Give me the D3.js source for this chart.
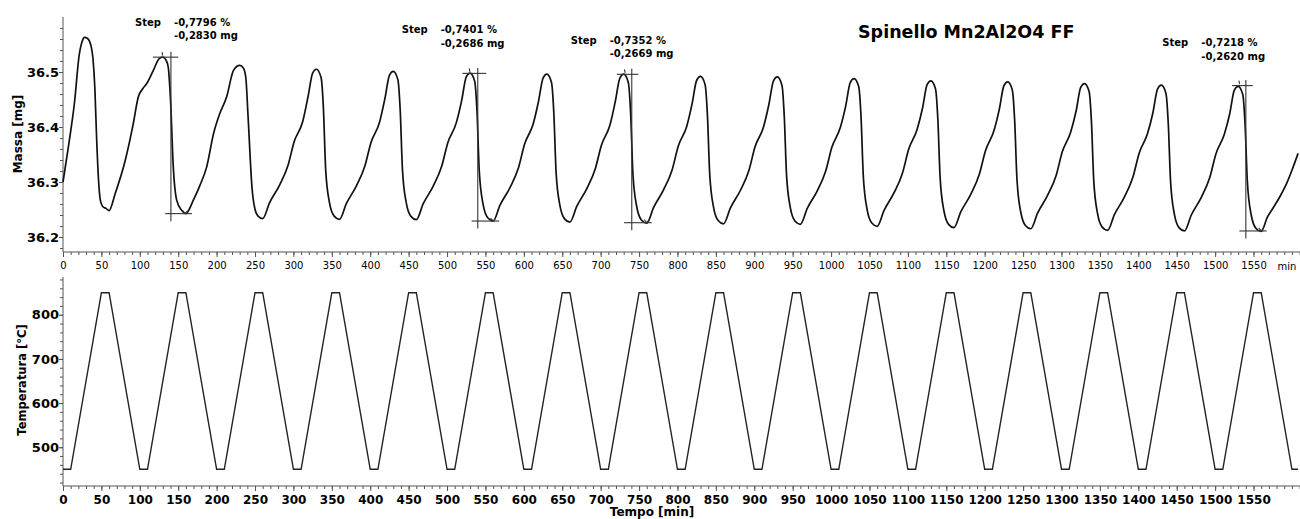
<!DOCTYPE html>
<html><head><meta charset="utf-8">
<script src="https://cdn.jsdelivr.net/npm/d3@7"></script>
<style>
body{margin:0;background:#fff}
svg{display:block;font-family:"DejaVu Sans",Verdana,sans-serif}
</style>
</head><body>
<svg id="c" width="1300" height="519"></svg>
<script>
// ---------------- DATA ----------------
const chartTitle = "Spinello Mn2Al2O4 FF";
const xTickLabels = [0,50,100,150,200,250,300,350,400,450,500,550,600,650,700,750,800,850,900,950,1000,1050,1100,1150,1200,1250,1300,1350,1400,1450,1500,1550];
const massTickLabels = [36.2,36.3,36.4,36.5];
const tempTickLabels = [500,600,700,800];

// Mass [mg] vs time [min]
const massTime = [
  0,7,15,21,25,28,32,36,39,41.5,43.5,46,48.5,52,56,60,
  68,81,91.5,98,104,109,117.6,125,130,134,137,140,143.6,148,154.5,160,
  170,178,187,196,204,213,222,230,235,238,241,246,250,254,260,
  269,282,293,301,312,319,325,330,336,339,342,347,353,360,
  369,382,393,401,412,419,425,430,436,439,442,447,453,460,
  469,482,493,501,512,519,525,530,536,539,542,547,553,560,
  569,582,593,601,612,619,625,630,636,639,642,647,653,660,
  669,682,693,701,712,719,725,730,736,739,742,747,753,760,
  769,782,793,801,812,819,825,830,836,839,842,847,853,860,
  869,882,893,901,912,919,925,930,936,939,942,947,953,960,
  969,982,993,1001,1012,1019,1025,1030,1036,1039,1042,1047,1053,1060,
  1069,1082,1093,1101,1112,1119,1125,1130,1136,1139,1142,1147,1153,1160,
  1169,1182,1193,1201,1212,1219,1225,1230,1236,1239,1242,1247,1253,1260,
  1269,1282,1293,1301,1312,1319,1325,1330,1336,1339,1342,1347,1353,1360,
  1369,1382,1393,1401,1412,1419,1425,1430,1436,1439,1442,1447,1453,1460,
  1469,1482,1493,1501,1512,1519,1525,1530,1536,1539,1542,1547,1553,1560,
  1568,1576,1585,1593,1601,1608
];
const massValue = [
  36.300,36.364,36.445,36.530,36.556,36.563,36.561,36.550,36.525,36.470,36.390,36.310,36.268,36.255,36.252,36.248,
  36.279,36.339,36.406,36.4545,36.470,36.479,36.503,36.524,36.527,36.522,36.509,36.4485,36.327,36.267,36.2485,36.2425,
  36.268,36.293,36.327,36.388,36.424,36.4545,36.503,36.512,36.507,36.490,36.418,36.291,36.250,36.238,36.2335,
  36.2625,36.2945,36.3305,36.3735,36.4095,36.455,36.498,36.505,36.490,36.435,36.322,36.262,36.238,36.232,
  36.261,36.293,36.329,36.372,36.408,36.451,36.494,36.501,36.486,36.431,36.3215,36.2615,36.2375,36.2315,
  36.2605,36.2925,36.3285,36.3715,36.4075,36.448,36.491,36.498,36.483,36.428,36.319,36.259,36.235,36.229,
  36.258,36.290,36.326,36.369,36.405,36.446,36.489,36.496,36.481,36.426,36.317,36.257,36.233,36.227,
  36.256,36.288,36.324,36.367,36.403,36.446,36.489,36.496,36.481,36.426,36.315,36.255,36.231,36.225,
  36.254,36.286,36.322,36.365,36.401,36.442,36.485,36.492,36.477,36.422,36.314,36.254,36.230,36.224,
  36.253,36.285,36.321,36.364,36.400,36.441,36.484,36.491,36.476,36.421,36.313,36.253,36.229,36.223,
  36.252,36.284,36.320,36.363,36.399,36.438,36.481,36.488,36.473,36.418,36.3095,36.2495,36.2255,36.2195,
  36.2485,36.2805,36.3165,36.3595,36.3955,36.434,36.477,36.484,36.469,36.414,36.307,36.247,36.223,36.217,
  36.246,36.278,36.314,36.357,36.393,36.432,36.475,36.482,36.467,36.412,36.305,36.245,36.221,36.215,
  36.244,36.276,36.312,36.355,36.391,36.429,36.472,36.479,36.464,36.409,36.302,36.242,36.218,36.212,
  36.241,36.273,36.309,36.352,36.388,36.426,36.469,36.476,36.461,36.406,36.301,36.241,36.217,36.211,
  36.240,36.272,36.308,36.351,36.387,36.424,36.467,36.474,36.459,36.404,36.300,36.240,36.216,36.210,
  36.236,36.254,36.275,36.297,36.325,36.352
];

// Temperature [°C] vs time [min]
const tempTime = [
  0,10,50,60, 100,110,150,160, 200,210,250,260, 300,310,350,360,
  400,410,450,460, 500,510,550,560, 600,610,650,660, 700,710,750,760,
  800,810,850,860, 900,910,950,960, 1000,1010,1050,1060, 1100,1110,1150,1160,
  1200,1210,1250,1260, 1300,1310,1350,1360, 1400,1410,1450,1460, 1500,1510,1550,1560,
  1600,1608
];
const tempValue = [
  450,450,850,850, 450,450,850,850, 450,450,850,850, 450,450,850,850,
  450,450,850,850, 450,450,850,850, 450,450,850,850, 450,450,850,850,
  450,450,850,850, 450,450,850,850, 450,450,850,850, 450,450,850,850,
  450,450,850,850, 450,450,850,850, 450,450,850,850, 450,450,850,850,
  450,450
];

// Step evaluations
const stepTime = [140.5, 540, 740.5, 1540];
const stepTop = [36.527, 36.4975, 36.4958, 36.4753];
const stepBottom = [36.2425, 36.229, 36.226, 36.211];
const stepTopFrom = [117, 520, 721, 1522];
const stepTopTo = [150, 551, 749, 1549];
const stepBottomFrom = [133, 532, 730.5, 1531.6];
const stepBottomTo = [168, 568, 766.5, 1567];
const stepPeakTime = [129, 529, 731, 1531];
const stepMinTime = [159, 560, 760, 1560];
const stepPercent = ["-0,7796 %","-0,7401 %","-0,7352 %","-0,7218 %"];
const stepMass = ["-0,2830 mg","-0,2686 mg","-0,2669 mg","-0,2620 mg"];

// ---------------- LAYOUT ----------------
const stepLabelAt = [[135,25.5],[401.7,33],[570.7,43.5],[1162.3,46]];
const svg = d3.select("#c");
const axisColor = "#555";
const x = d3.scaleLinear().domain([0,1610.5]).range([63,1300]);
const yM = d3.scaleLinear().domain([36.2,36.5]).range([237,72]);
const yT = d3.scaleLinear().domain([450,850]).range([469.3,292.7]);
const xMinor = d3.range(0,1611,10);
const mMinor = d3.range(36.18,36.59,0.02);
const tMinor = d3.range(420,881,20);
const topAxisY = 252, botAxisY = 486;

function styleAxis(g){
  g.select(".domain").remove();
  g.selectAll(".tick line").attr("stroke",axisColor);
  g.selectAll("text").attr("fill","#000");
}
function xAxis(yPos, size, weight, pad){
  svg.append("g").attr("transform",`translate(0,${yPos})`)
    .call(d3.axisBottom(x).tickValues(xMinor).tickSize(3).tickSizeOuter(0).tickFormat(""))
    .call(styleAxis);
  svg.append("g").attr("transform",`translate(0,${yPos})`)
    .call(d3.axisBottom(x).tickValues(xTickLabels).tickSize(5).tickPadding(pad).tickSizeOuter(0).tickFormat(d3.format("d")))
    .call(styleAxis)
    .selectAll("text").attr("font-size",size).attr("font-weight",weight).attr("font-family",'"DejaVu Sans",Verdana,sans-serif');
  svg.append("line").attr("x1",63).attr("x2",1300).attr("y1",yPos).attr("y2",yPos)
    .attr("stroke",axisColor).attr("stroke-width",1);
}
function yAxis(scale, minor, major, fmt, y1, y2){
  svg.append("g").attr("transform","translate(63,0)")
    .call(d3.axisLeft(scale).tickValues(minor).tickSize(3).tickSizeOuter(0).tickFormat(""))
    .call(styleAxis);
  svg.append("g").attr("transform","translate(63,0)")
    .call(d3.axisLeft(scale).tickValues(major).tickSize(4).tickPadding(0).tickSizeOuter(0).tickFormat(fmt))
    .call(styleAxis)
    .selectAll("text").attr("font-size",13).attr("font-weight","bold").attr("font-family",'"DejaVu Sans",Verdana,sans-serif');
  svg.append("line").attr("x1",63).attr("x2",63).attr("y1",y1).attr("y2",y2)
    .attr("stroke",axisColor).attr("stroke-width",1);
}

// axes
xAxis(topAxisY, 10, "normal", 5);
xAxis(botAxisY, 12, "bold", 4.5);
yAxis(yM, mMinor, massTickLabels, d3.format(".1f"), 17, topAxisY);
yAxis(yT, tMinor, tempTickLabels, d3.format("d"), 277, botAxisY);

svg.append("text").attr("x",1287).attr("y",269.5).attr("text-anchor","middle")
  .attr("font-size",10).text("min");
svg.append("text").attr("x",652).attr("y",516).attr("text-anchor","middle")
  .attr("font-size",12).attr("font-weight","bold").text("Tempo [min]");
svg.append("text").attr("transform","translate(22,134) rotate(-90)").attr("text-anchor","middle")
  .attr("font-size",12).attr("font-weight","bold").text("Massa [mg]");
svg.append("text").attr("transform","translate(26,380) rotate(-90)").attr("text-anchor","middle")
  .attr("font-size",11.5).attr("font-weight","bold").text("Temperatura [°C]");
svg.append("text").attr("x",858).attr("y",38).attr("font-size",17.5).attr("font-weight","bold").text(chartTitle);

// lines
const massData = massTime.map((t,i)=>[t,massValue[i]]);
const tempData = tempTime.map((t,i)=>[t,tempValue[i]]);
svg.append("path").datum(tempData)
  .attr("d",d3.line().x(d=>x(d[0])).y(d=>yT(d[1])))
  .attr("fill","none").attr("stroke","#222").attr("stroke-width",1.4);
svg.append("path").datum(massData)
  .attr("d",d3.line().x(d=>x(d[0])).y(d=>yM(d[1])).curve(d3.curveMonotoneX))
  .attr("fill","none").attr("stroke","#111").attr("stroke-width",1.7).attr("stroke-linejoin","round");

// step markers
const mk = svg.append("g").attr("stroke","#333").attr("stroke-width",1.1).attr("fill","none");
stepTime.forEach((t,i)=>{
  const xv = x(t), yt = yM(stepTop[i]), yb = yM(stepBottom[i]);
  mk.append("line").attr("x1",xv).attr("x2",xv).attr("y1",yt-5.5).attr("y2",yb+7.5);
  mk.append("line").attr("x1",x(stepTopFrom[i])).attr("x2",x(stepTopTo[i])).attr("y1",yt).attr("y2",yt);
  mk.append("line").attr("x1",x(stepBottomFrom[i])).attr("x2",x(stepBottomTo[i])).attr("y1",yb).attr("y2",yb);
  const xp = x(stepPeakTime[i]);
  mk.append("line").attr("x1",xp).attr("x2",xp+0.6).attr("y1",yt-5).attr("y2",yt-1.5);
  const xm = x(stepMinTime[i]);
  mk.append("path").attr("d",`M${xm-2.5},${yb-3}L${xm},${yb}L${xm+2.5},${yb-3}`);
  const [lx,ly] = stepLabelAt[i];
  svg.append("text").attr("x",lx).attr("y",ly).attr("font-size",10).attr("font-weight","bold").text("Step");
  svg.append("text").attr("x",lx+39).attr("y",ly).attr("font-size",10).attr("font-weight","bold").text(stepPercent[i]);
  svg.append("text").attr("x",lx+39).attr("y",ly+13.5).attr("font-size",10).attr("font-weight","bold").text(stepMass[i]);
});
</script>
</body></html>
